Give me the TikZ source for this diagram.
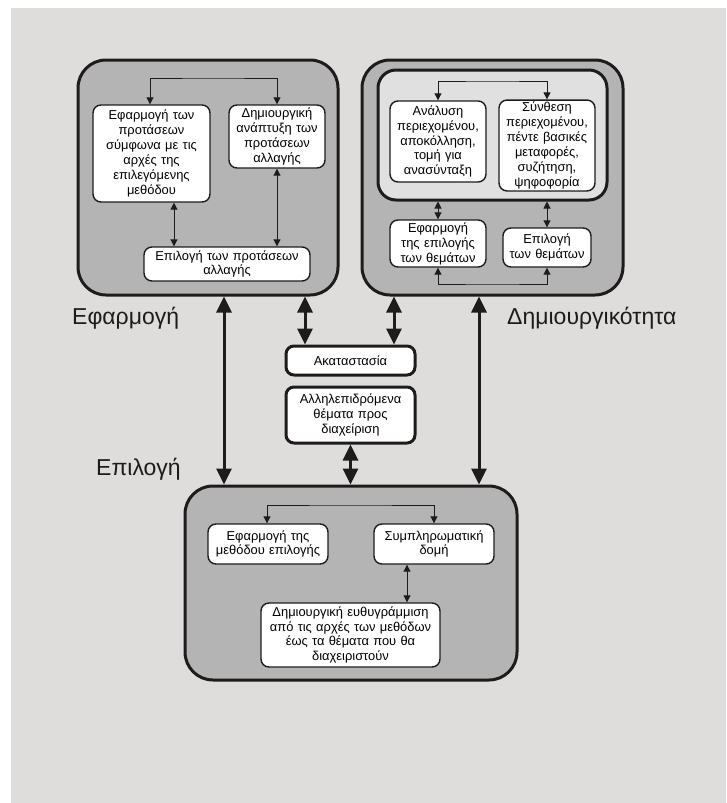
\documentclass[tikz,border=0pt]{standalone}
\usepackage{fontspec}
\setmainfont{Liberation Sans}
\usetikzlibrary{arrows.meta}
\definecolor{bggray}{HTML}{DEDDDC}
\definecolor{panelgray}{HTML}{B4B4B4}
\definecolor{innergray}{HTML}{E0E0E0}
\definecolor{ink}{HTML}{1E1B1C}
\tikzset{
  panel/.style={draw=ink, line width=3pt, fill=panelgray, rounded corners=28pt},
  innerpanel/.style={draw=ink, line width=3pt, fill=innergray, rounded corners=18pt},
  box/.style={draw=ink, line width=1.4pt, fill=white, rounded corners=8pt, align=center,
    inner sep=2pt, font=\fontsize{12.9}{14.9}\selectfont},
  hubbox/.style={box, line width=3pt},
  biglabel/.style={font=\fontsize{23}{26}\selectfont, text=ink, inner sep=0pt},
  link/.style={draw=ink, line width=1pt, {Triangle[length=7pt,width=7pt]}-{Triangle[length=7pt,width=7pt]}},
  fatlink/.style={draw=ink, line width=3pt, {Triangle[length=16pt,width=15pt]}-{Triangle[length=16pt,width=15pt]}},
}
\begin{document}
\begin{tikzpicture}[x=1pt, y=-1pt]
\useasboundingbox (0,0) rectangle (726,803);
\fill[bggray] (11,8) rectangle (726,803);

% three panels
\node[panel, minimum width=260pt, minimum height=235pt] (apply) at (208,177.5) {};
\node[panel, minimum width=261pt, minimum height=235pt] (create) at (492.5,177.5) {};
\node[innerpanel, minimum width=229pt, minimum height=130pt] (inner) at (492.5,135) {};
\node[panel, minimum width=332pt, minimum height=194pt] (select) at (351,583) {};

% application panel
\node[box, minimum width=117pt, minimum height=97pt, text width=113pt] (a1) at (151.5,153.5)
  {Εφαρμογή των\\προτάσεων\\σύμφωνα με τις\\αρχές της\\επιλεγόμενης\\μεθόδου};
\node[box, minimum width=94pt, minimum height=63pt, text width=92pt] (a2) at (277,136.5)
  {Δημιουργική\\ανάπτυξη των\\προτάσεων\\αλλαγής};
\node[box, minimum width=166pt, minimum height=34pt, text width=160pt] (a3) at (227,264)
  {Επιλογή των προτάσεων\\αλλαγής};
\coordinate (atop) at (213,78);
\draw[link] ([xshift=-1.5pt]a1.north) |- (atop) -| (a2.north);
\draw[link] ([xshift=22.5pt]a1.south) -- ([xshift=-53pt]a3.north);
\draw[link] (a2.south) -- ([xshift=50pt]a3.north);

% creativity panel
\node[box, minimum width=94pt, minimum height=81pt, text width=92pt] (b1) at (438,141.5)
  {Ανάλυση\\περιεχομένου,\\αποκόλληση,\\τομή για\\ανασύνταξη};
\node[box, minimum width=94pt, minimum height=89pt, text width=92pt] (b2) at (547,145.5)
  {Σύνθεση\\περιεχομένου,\\πέντε βασικές\\μεταφορές,\\συζήτηση,\\ψηφοφορία};
\node[box, minimum width=94pt, minimum height=47pt, text width=92pt] (b3) at (438,243.5)
  {Εφαρμογή\\της επιλογής\\των θεμάτων};
\node[box, minimum width=86pt, minimum height=39pt, text width=84pt] (b4) at (547,247.5)
  {Επιλογή\\των θεμάτων};
\coordinate (btop) at (492,81);
\coordinate (bbot) at (492,284);
\draw[link] (b1.north) |- (btop) -| (b2.north);
\draw[link] (b3.south) |- (bbot) -| (b4.south);
\draw[link] (inner.south -| b3.north) -- (b3.north);
\draw[link] (inner.south -| b4.north) -- (b4.north);

% panel titles
\node[biglabel, anchor=base west] (tapply) at (72,324) {Εφαρμογή};
\node[biglabel, anchor=base west] (tcreate) at (507,324) {Δημιουργικότητα};
\node[biglabel, anchor=base west] (tselect) at (96,475) {Επιλογή};

% central boxes
\node[hubbox, minimum width=129pt, minimum height=29pt, text width=124pt] (m1) at (350.5,360.5)
  {Ακαταστασία};
\node[hubbox, minimum width=129pt, minimum height=56pt, text width=124pt] (m2) at (350.5,415)
  {Αλληλεπιδρόμενα\\θέματα προς\\διαχείριση};

% selection panel
\node[box, minimum width=118pt, minimum height=40pt, text width=116pt] (c1) at (268,544)
  {Εφαρμογή της\\μεθόδου επιλογής};
\node[box, minimum width=118pt, minimum height=40pt, text width=116pt] (c2) at (434,544)
  {Συμπληρωματική\\δομή};
\node[box, minimum width=179pt, minimum height=64pt, text width=175pt] (c3) at (350.5,635)
  {Δημιουργική ευθυγράμμιση\\από τις αρχές των μεθόδων\\έως τα θέματα που θα\\διαχειριστούν};
\coordinate (ctop) at (350,505);
\draw[link] ([xshift=-1pt]c1.north) |- (ctop) -| (c2.north);
\draw[link] ([xshift=-27pt]c2.south) -- ([xshift=56.5pt]c3.north);

% links between panels
\coordinate (xa) at (224,0);
\coordinate (xb) at (305,0);
\coordinate (xc) at (394,0);
\coordinate (xd) at (479,0);
\draw[fatlink] (apply.south -| xa) -- (select.north -| xa);
\draw[fatlink] (create.south -| xd) -- (select.north -| xd);
\draw[fatlink] (apply.south -| xb) -- (m1.north -| xb);
\draw[fatlink] (create.south -| xc) -- (m1.north -| xc);
\draw[fatlink] (m2.south) -- (select.north -| m2.south);
\end{tikzpicture}
\end{document}
